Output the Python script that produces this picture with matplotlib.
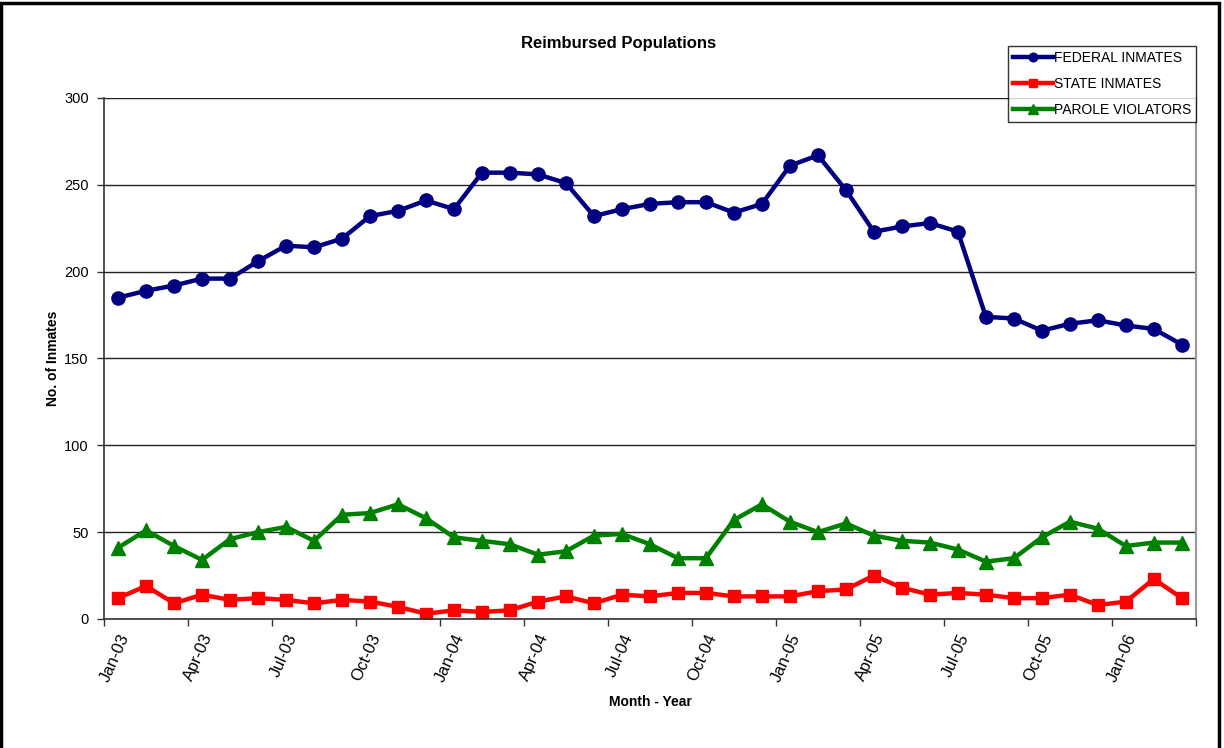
import numpy as np
import matplotlib
matplotlib.use("Agg")
import matplotlib.pyplot as plt
from matplotlib.patches import Rectangle

plt.rcParams['font.family'] = ['Liberation Sans', 'DejaVu Sans']

# monthly counts, Jan-03 .. Mar-06
months = ['Jan-03', 'Feb-03', 'Mar-03', 'Apr-03', 'May-03', 'Jun-03', 'Jul-03', 'Aug-03',
          'Sep-03', 'Oct-03', 'Nov-03', 'Dec-03', 'Jan-04', 'Feb-04', 'Mar-04', 'Apr-04',
          'May-04', 'Jun-04', 'Jul-04', 'Aug-04', 'Sep-04', 'Oct-04', 'Nov-04', 'Dec-04',
          'Jan-05', 'Feb-05', 'Mar-05', 'Apr-05', 'May-05', 'Jun-05', 'Jul-05', 'Aug-05',
          'Sep-05', 'Oct-05', 'Nov-05', 'Dec-05', 'Jan-06', 'Feb-06', 'Mar-06']

federal = [185, 189, 192, 196, 196, 206, 215, 214, 219, 232, 235, 241, 236,
           257, 257, 256, 251, 232, 236, 239, 240, 240, 234, 239, 261, 267,
           247, 223, 226, 228, 223, 174, 173, 166, 170, 172, 169, 167, 158]

state = [12, 19, 9, 14, 11, 12, 11, 9, 11, 10, 7, 3, 5,
         4, 5, 10, 13, 9, 14, 13, 15, 15, 13, 13, 13, 16,
         17, 25, 18, 14, 15, 14, 12, 12, 14, 8, 10, 23, 12]

parole = [41, 51, 42, 34, 46, 50, 53, 45, 60, 61, 66, 58, 47,
          45, 43, 37, 39, 48, 49, 43, 35, 35, 57, 66, 56, 50,
          55, 48, 45, 44, 40, 33, 35, 47, 56, 52, 42, 44, 44]

x = np.arange(len(months))

fig = plt.figure(figsize=(12.24, 7.48), dpi=100)
ax = fig.add_axes([0.085, 0.1725, 0.892, 0.6965])

ax.plot(x, federal, color='#000080', lw=3.2, marker='o', ms=9.5, label='FEDERAL INMATES')
ax.plot(x, state, color='#FF0000', lw=3.2, marker='s', ms=8.5, label='STATE INMATES')
ax.plot(x, parole, color='#008000', lw=3.2, marker='^', ms=10.5, label='PAROLE VIOLATORS')

ax.set_xlim(-0.5, len(months) - 0.5)
ax.set_ylim(0, 300)
ax.set_yticks(np.arange(0, 301, 50))
ax.yaxis.grid(True, color='#222222', lw=1)
ax.set_axisbelow(True)

# tick marks on category boundaries, labels on every third month
ax.set_xticks(np.arange(-0.5, len(months), 3))
ax.set_xticklabels([])
ax.set_xticks(x[::3], minor=True)
ax.set_xticklabels(months[::3], minor=True, rotation=66, ha='right', va='top',
                   rotation_mode='anchor', fontsize=12)
ax.tick_params(axis='x', which='minor', length=0, pad=9)
ax.tick_params(axis='x', which='major', length=5, width=1, color='#333333')
ax.tick_params(axis='y', length=5, width=1, color='#333333', labelsize=10.5, pad=6)

for s in ['left', 'bottom']:
    ax.spines[s].set_color('#333333')
    ax.spines[s].set_linewidth(1.2)
ax.spines['top'].set_visible(False)
ax.spines['right'].set_color('#999999')
ax.spines['right'].set_linewidth(1.5)

ax.set_ylabel('No. of Inmates', fontsize=10, fontweight='bold', labelpad=3)
ax.set_xlabel('Month - Year', fontsize=10, fontweight='bold', labelpad=8)
fig.text(0.505, 0.942, 'Reimbursed Populations', ha='center', va='center',
         fontsize=12, fontweight='bold')

leg = ax.legend(loc='upper right', bbox_to_anchor=(1.0, 1.099), fontsize=10,
                frameon=True, fancybox=False, handlelength=2.9, handletextpad=0.05,
                borderpad=0.35, labelspacing=0.85, borderaxespad=0, markerscale=0.65)
leg.get_frame().set_edgecolor('black')
leg.get_frame().set_linewidth(1)

# outer chart frame
fig.patches.append(Rectangle((0.001, -0.01), 0.995, 1.006, transform=fig.transFigure,
                             fill=False, edgecolor='black', lw=2.5))

fig.savefig('out.png', dpi=100, facecolor='white')
